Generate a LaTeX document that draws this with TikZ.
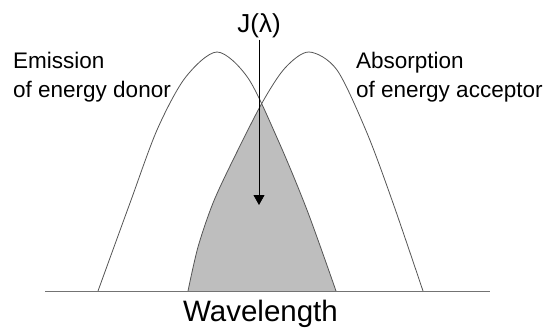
\documentclass[tikz,border=0pt]{standalone}
\usepackage{fontspec}
\setmainfont{Liberation Sans}
\usetikzlibrary{arrows.meta}
\definecolor{shadegray}{RGB}{190,190,190}
\definecolor{curvegray}{RGB}{85,85,85}
\begin{document}
\begin{tikzpicture}[x=1pt,y=1pt,
  curve/.style={draw=curvegray, line width=0.8pt},
  axisline/.style={draw=black!55, line width=1pt},
  lbl/.style={font=\fontsize{22.5}{29}\selectfont, align=left, inner sep=0pt, anchor=north west, text=black},
  jlbl/.style={font=\fontsize{26}{30}\selectfont, inner sep=1pt, anchor=base},
  wlbl/.style={font=\fontsize{29.5}{34}\selectfont, inner sep=0pt, anchor=base},
  arrowline/.style={draw=black, line width=0.8pt, -{Triangle[width=11pt,length=10pt]}}]
\useasboundingbox (0,0) rectangle (548,327);
% shaded overlap
\begin{scope}
  \clip plot[smooth] coordinates {(98,36) (130,124) (157,197) (185,249) (217,275) (248,249) (278,187) (307,117) (336,36)} -- cycle;
  \fill[shadegray] plot[smooth] coordinates {(188,36) (198,80) (213,124) (233,167) (262,224) (285,259) (309,275) (337,257) (367,194) (393,124) (423,36)} -- cycle;
\end{scope}
% curves
\draw[curve] plot[smooth] coordinates {(98,36) (130,124) (157,197) (185,249) (217,275) (248,249) (278,187) (307,117) (336,36)};
\draw[curve] plot[smooth] coordinates {(188,36) (198,80) (213,124) (233,167) (262,224) (285,259) (309,275) (337,257) (367,194) (393,124) (423,36)};
% baseline
\draw[axisline] (45,36) -- (490,36);
% labels
\node[lbl] (em) at (13,275) {Emission\\of energy donor};
\node[lbl] (ab) at (356,275) {Absorption\\of energy acceptor};
\node[jlbl] (J) at (259,294) {J(λ)};
\node[wlbl] (wl) at (260.5,6) {Wavelength};
\coordinate (tip) at (259,122);
\draw[arrowline] (J.south) -- (tip);
\end{tikzpicture}
\end{document}
